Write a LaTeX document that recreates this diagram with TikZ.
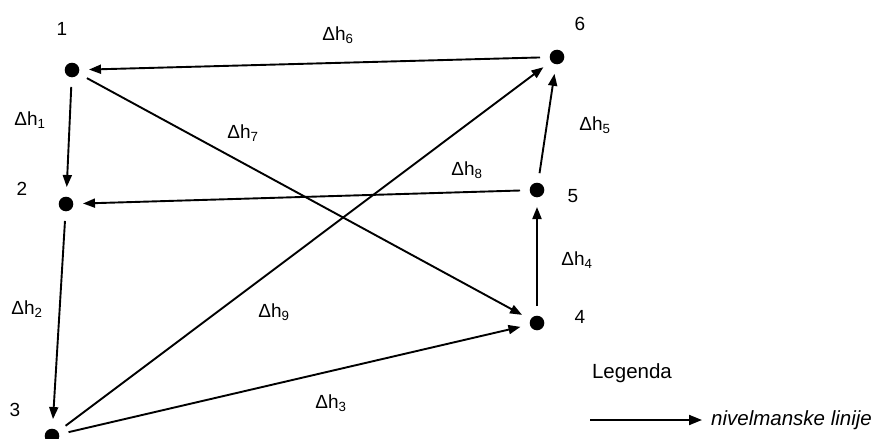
\documentclass[tikz,border=0pt]{standalone}
\usepackage{fontspec}
\setmainfont{Liberation Sans}
\usetikzlibrary{arrows.meta}
\tikzset{
  pt/.style={circle, minimum size=34pt, inner sep=0pt, outer sep=0pt,
    path picture={\fill[black] (path picture bounding box.center) circle (7.3pt);}},
  lbl/.style={font=\fontsize{19pt}{22pt}\selectfont, inner sep=0pt},
  edge/.style={line width=1.9pt, -{Triangle[length=12pt,width=9pt]}}
}
\newcommand{\dhx}[1]{Δh\textsubscript{#1}}
\begin{document}
\begin{tikzpicture}[x=1pt,y=-1pt]
\useasboundingbox (0,0) rectangle (879,439);
\node[pt] (n1) at (72,70) {};
\node[pt] (n2) at (66,204) {};
\node[pt] (n3) at (52,436) {};
\node[pt] (n4) at (537,323) {};
\node[pt] (n5) at (537,190) {};
\node[pt] (n6) at (557,57) {};
\node[lbl] (l1) at (62,29) {1};
\node[lbl] (l2) at (22,189) {2};
\node[lbl] (l3) at (15,410) {3};
\node[lbl] (l4) at (580,317) {4};
\node[lbl] (l5) at (573,196) {5};
\node[lbl] (l6) at (580,24) {6};
\draw[edge] (n6) -- (n1);
\draw[edge] (n1) -- (n2);
\draw[edge] (n2) -- (n3);
\draw[edge] (n3) -- (n4);
\draw[edge] (n4) -- (n5);
\draw[edge] (n5) -- (n6);
\draw[edge] (n1) -- (n4);
\draw[edge] (n5) -- (n2);
\draw[edge] (n3) -- (n6);
\node[lbl] (d1) at (30,120) {\dhx{1}};
\node[lbl] (d2) at (27,309) {\dhx{2}};
\node[lbl] (d3) at (331,403) {\dhx{3}};
\node[lbl] (d4) at (577,260) {\dhx{4}};
\node[lbl] (d5) at (595,125) {\dhx{5}};
\node[lbl] (d6) at (338,35) {\dhx{6}};
\node[lbl] (d7) at (243,133) {\dhx{7}};
\node[lbl] (d8) at (467,170) {\dhx{8}};
\node[lbl] (d9) at (274,312) {\dhx{9}};
\node[lbl, font=\fontsize{20.5pt}{24pt}\selectfont] (leg) at (632,373) {Legenda};
\coordinate (la) at (590,420);
\node[lbl, font=\fontsize{20.5pt}{24pt}\selectfont, anchor=west] (lt) at (711,420) {\itshape nivelmanske linije};
\draw[edge, -{Triangle[length=13pt,width=10pt]}] (la) -- ([xshift=-9pt]lt.west);
\end{tikzpicture}
\end{document}
